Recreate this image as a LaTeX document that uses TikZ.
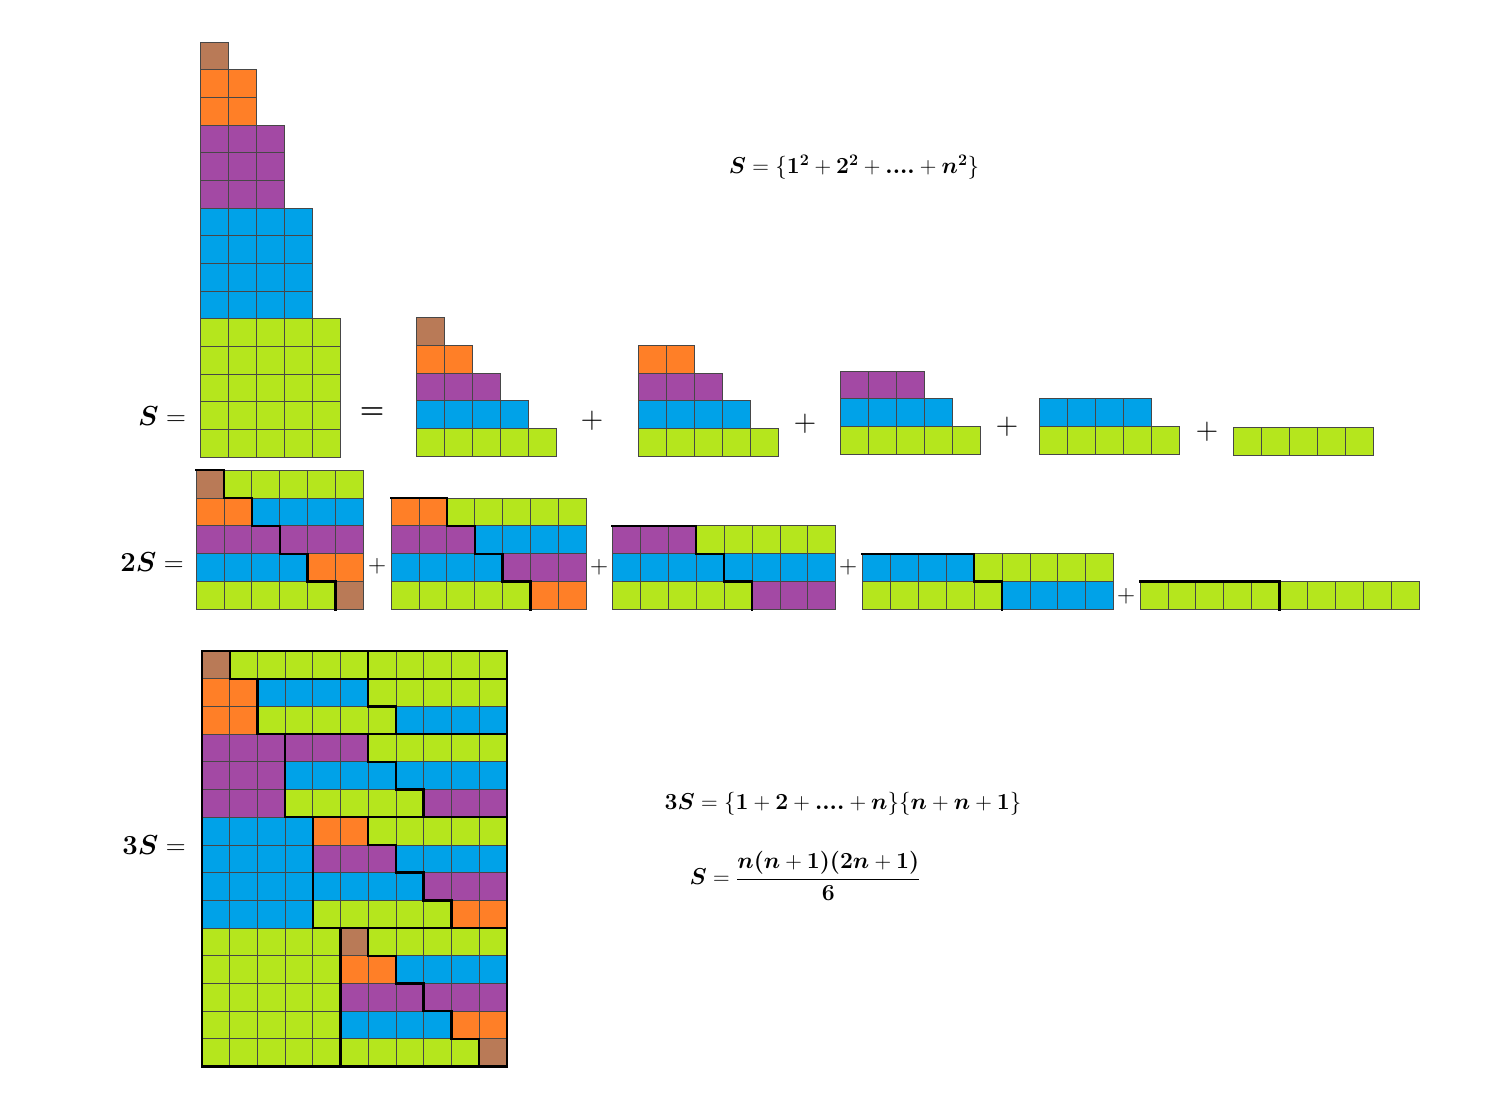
\RequirePackage{fix-cm}
\documentclass[tikz,border=0pt]{standalone}
\usepackage{bm}
\definecolor{col1}{HTML}{B97A57}
\definecolor{col2}{HTML}{FF7F27}
\definecolor{col3}{HTML}{A349A4}
\definecolor{col4}{HTML}{00A2E8}
\definecolor{col5}{HTML}{B5E61D}
\tikzset{
  cellbox/.style={draw=black!72, line width=0.8pt},
  thk/.style={draw=black, line width=2.4pt, line cap=rect, line join=miter},
  lbl/.style={inner sep=0pt, font=\fontsize{27.5}{33}\selectfont},
  fml/.style={inner sep=0pt, font=\fontsize{23}{28}\selectfont},
  eqbig/.style={inner sep=0pt, font=\fontsize{28}{33}\selectfont},
  plusA/.style={inner sep=0pt, font=\fontsize{31}{36}\selectfont},
  plusB/.style={inner sep=0pt, font=\fontsize{25}{30}\selectfont}
}
% x0, ytop, cellw, cellh, startcol, count, colour
\newcommand{\cellrun}[7]{%
  \foreach \qq in {1,...,#6}{%
    \path[cellbox, fill=#7] ({#1+(#5+\qq-1)*#3},{#2}) rectangle ++(#3,#4);
  }%
}
% first staircase row: first width, x0, bottom
\newcommand{\stairs}[3]{%
  \foreach \ia in {#1,...,5}{%
    \pgfmathsetmacro\yy{#3-(6-\ia)*27.7}%
    \cellrun{#2}{\yy}{28}{27.7}{0}{\ia}{col\ia}%
  }}
% 2S block: m, x0, top
\newcommand{\dblk}[3]{%
  \foreach \ka in {#1,...,5}{%
    \pgfmathsetmacro\yy{#3+(\ka-#1)*27.9}%
    \pgfmathtruncatemacro\rc{5+#1-\ka}%
    \cellrun{#2}{\yy}{27.9}{27.9}{0}{\ka}{col\ka}%
    \cellrun{#2}{\yy}{27.9}{27.9}{\ka}{\rc}{col\rc}%
  }}
\def\cwB{27.9}
\def\cwC{27.7}
\begin{document}
\begin{tikzpicture}[x=1pt,y=-1pt]
\useasboundingbox (0,0) rectangle (1498,1101);
\fill[white] (0,0) rectangle (1498,1101);

% ---- tall stack S
\foreach \ia in {1,...,5}{%
  \foreach \ib in {1,...,\ia}{%
    \pgfmathsetmacro\yy{42+(\ia*(\ia-1)/2+\ib-1)*27.67}%
    \cellrun{200}{\yy}{28}{27.67}{0}{\ia}{col\ia}%
  }}

% ---- row 1 staircases
\stairs{1}{416}{456}
\stairs{2}{638}{456}
\stairs{3}{840}{454}
\stairs{4}{1039}{454}
\stairs{5}{1233}{455}

% ---- row 2 blocks (2S)
\dblk{1}{196}{470}
\dblk{2}{391}{497.9}
\dblk{3}{612.5}{525.8}
\dblk{4}{862.5}{553.7}
\dblk{5}{1140}{581.6}

\draw[thk] (196,470) -- ++(\cwB,0) -- ++(0,\cwB) -- ++(\cwB,0) -- ++(0,\cwB) -- ++(\cwB,0) -- ++(0,\cwB) -- ++(\cwB,0) -- ++(0,\cwB) -- ++(\cwB,0) -- ++(0,\cwB);
\draw[thk] (391,497.9) -- ++({2*\cwB},0) -- ++(0,\cwB) -- ++(\cwB,0) -- ++(0,\cwB) -- ++(\cwB,0) -- ++(0,\cwB) -- ++(\cwB,0) -- ++(0,\cwB);
\draw[thk] (612.5,525.8) -- ++({3*\cwB},0) -- ++(0,\cwB) -- ++(\cwB,0) -- ++(0,\cwB) -- ++(\cwB,0) -- ++(0,\cwB);
\draw[thk] (862.5,553.7) -- ++({4*\cwB},0) -- ++(0,\cwB) -- ++(\cwB,0) -- ++(0,\cwB);
\draw[thk] (1140,581.6) -- ++({5*\cwB},0) -- ++(0,\cwB);

% ---- 3S block
\foreach \ia in {1,...,5}{%
  \pgfmathtruncatemacro\mm{6-\ia}%
  \foreach \ib in {1,...,\ia}{%
    \pgfmathtruncatemacro\kk{\mm+\ib-1}%
    \pgfmathtruncatemacro\rc{5+\mm-\kk}%
    \pgfmathsetmacro\yy{651+(\ia*(\ia-1)/2+\ib-1)*27.7}%
    \cellrun{202}{\yy}{27.7}{27.7}{0}{\ia}{col\ia}%
    \cellrun{202}{\yy}{27.7}{27.7}{\ia}{\kk}{col\kk}%
    \cellrun{202}{\yy}{27.7}{27.7}{\ia+\kk}{\rc}{col\rc}%
  }}
% boundary of S part
\draw[thk] ({202+\cwC},651) -- ++(0,\cwC) -- ++(\cwC,0) -- ++(0,{2*\cwC}) -- ++(\cwC,0) -- ++(0,{3*\cwC}) -- ++(\cwC,0) -- ++(0,{4*\cwC}) -- ++(\cwC,0) -- ++(0,{5*\cwC});
% group separators
\draw[thk] ({202+1*\cwC},{651+1*\cwC}) -- ({202+11*\cwC},{651+1*\cwC});
\draw[thk] ({202+2*\cwC},{651+3*\cwC}) -- ({202+11*\cwC},{651+3*\cwC});
\draw[thk] ({202+3*\cwC},{651+6*\cwC}) -- ({202+11*\cwC},{651+6*\cwC});
\draw[thk] ({202+4*\cwC},{651+10*\cwC}) -- ({202+11*\cwC},{651+10*\cwC});
% inner staircases
\draw[thk] ({202+6*\cwC},651) -- ++(0,\cwC);
\draw[thk] ({202+6*\cwC},{651+1*\cwC}) -- ++(0,\cwC) -- ++(\cwC,0) -- ++(0,\cwC);
\draw[thk] ({202+6*\cwC},{651+3*\cwC}) -- ++(0,\cwC) -- ++(\cwC,0) -- ++(0,\cwC) -- ++(\cwC,0) -- ++(0,\cwC);
\draw[thk] ({202+6*\cwC},{651+6*\cwC}) -- ++(0,\cwC) -- ++(\cwC,0) -- ++(0,\cwC) -- ++(\cwC,0) -- ++(0,\cwC) -- ++(\cwC,0) -- ++(0,\cwC);
\draw[thk] ({202+6*\cwC},{651+10*\cwC}) -- ++(0,\cwC) -- ++(\cwC,0) -- ++(0,\cwC) -- ++(\cwC,0) -- ++(0,\cwC) -- ++(\cwC,0) -- ++(0,\cwC) -- ++(\cwC,0) -- ++(0,\cwC);
% outer border
\draw[thk, line width=2.2pt] (202,651) rectangle ++({11*\cwC},{15*\cwC});

% ---- labels and formulas
\node[lbl] (lS) at (162,416) {$\bm{S}=$};
\node[lbl] (l2S) at (152,562) {$\bm{2S}=$};
\node[lbl] (l3S) at (154,845) {$\bm{3S}=$};
\node[eqbig] (eqA) at (372,413) {$\bm{=}$};

\node[plusA] (pA1) at (592,421) {$+$};
\node[plusA] (pA2) at (805,424) {$+$};
\node[plusA] (pA3) at (1007,427) {$+$};
\node[plusA] (pA4) at (1207,432) {$+$};

\node[plusB] (pB1) at (377,566) {$+$};
\node[plusB] (pB2) at (599,567) {$+$};
\node[plusB] (pB3) at (848,567) {$+$};
\node[plusB] (pB4) at (1126,596) {$+$};

\node[fml] (f1) at (854,167) {$\bm{S}=\{\bm{1}^{\bm{2}}+\bm{2}^{\bm{2}}+\bm{....}+\bm{n}^{\bm{2}}\}$};
\node[fml] (f2) at (843,804) {$\bm{3S}=\{\bm{1}+\bm{2}+\bm{....}+\bm{n}\}\{\bm{n}+\bm{n}+\bm{1}\}$};
\node[fml] (f3) at (805,876) {$\displaystyle \bm{S}=\frac{\bm{n(n}+\bm{1)(2n}+\bm{1)}}{\bm{6}}$};
\end{tikzpicture}
\end{document}
